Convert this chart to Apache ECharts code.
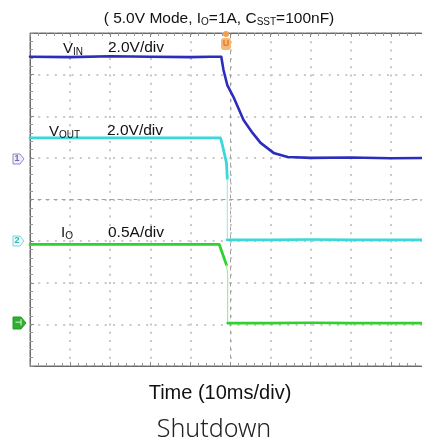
<!DOCTYPE html>
<html><head><meta charset="utf-8">
<script src="https://cdn.jsdelivr.net/npm/echarts@6/dist/echarts.min.js"></script>
<style>html,body{margin:0;padding:0;background:#fff}#c{width:422px;height:447px}</style>
</head><body><div id="c"></div>
<script>
// x: time in divisions (10 ms/div), trigger at 0; y: screen divisions, centre = 0
const vinX  = [-5, -4, -3, -2, -1, -0.5, -0.23, -0.175, -0.08, 0.075, 0.325, 0.55, 0.75, 1.075, 1.425, 2, 3, 4, 5];
const vinY  = [3.43, 3.42, 3.44, 3.43, 3.42, 3.43, 3.43, 3.11, 2.75, 2.46, 1.91, 1.60, 1.36, 1.12, 1.02, 1.0, 1.01, 0.99, 1.0];
const voutX = [-5, -2, -0.25, -0.2, -0.1, -0.08];
const voutY = [1.48, 1.48, 1.48, 1.3, 0.88, 0.5];
const voutDropX = [-0.08, -0.08];
const voutDropY = [0.5, -0.97];
const voutAfterX = [-0.08, 1, 2, 3, 4, 5];
const voutAfterY = [-0.97, -0.97, -0.96, -0.97, -0.97, -0.97];
const ioX = [-5, -2, -0.28, -0.1];
const ioY = [-1.08, -1.08, -1.08, -1.57];
const ioDropX = [-0.1, -0.07, -0.07];
const ioDropY = [-1.57, -1.8, -2.97];
const ioAfterX = [-0.07, 1, 2, 3, 4, 5];
const ioAfterY = [-2.97, -2.97, -2.96, -2.97, -2.97, -2.97];

const zip = (xs, ys) => xs.map((x, i) => [x, ys[i]]);
const chart = echarts.init(document.getElementById('c'), null, {renderer: 'canvas'});
const FONT = 'Liberation Sans, Arial, sans-serif';
const dotted = {type: [2, 6.3], color: '#c8c8c8', width: 2};

function lineSeries(data, color, width) {
  return {type: 'line', data, showSymbol: false, symbol: 'none', silent: true, animation: false,
          xAxisIndex: 0, yAxisIndex: 0,
          lineStyle: {color, width, cap: 'round', join: 'round'}, z: 5};
}
function borderAxis(position) {
  return {type: 'value', min: position === 'left' ? -4 : -5, max: position === 'left' ? 4 : 5, interval: 1, position,
     axisLine: {show: true, onZero: false, lineStyle: {color: '#6a6a6a', width: 1}},
     axisTick: {show: true, inside: true, length: 4, lineStyle: {color: '#888'}},
     minorTick: {show: true, splitNumber: 5, length: 3, lineStyle: {color: '#999'}},
     axisLabel: {show: false}, splitLine: {show: false}};
}

chart.setOption({
  animation: false,
  grid: {left: 30, top: 33, width: 401, height: 333, outerBoundsMode: 'none', containLabel: false,
         show: true, borderColor: '#6a6a6a', borderWidth: 1, backgroundColor: 'transparent'},
  xAxis: [
    {type: 'value', min: -5, max: 5, interval: 1, position: 'bottom',
     axisLine: {show: true, onZero: true, lineStyle: {color: '#a0a0a0', width: 1, type: [3, 5]}},
     axisTick: {show: false}, minorTick: {show: false},
     axisLabel: {show: false}, splitLine: {show: true, lineStyle: dotted}},
    borderAxis('bottom'),
    borderAxis('top')
  ],
  yAxis: [
    {type: 'value', min: -4, max: 4, interval: 1, position: 'left',
     axisLine: {show: true, onZero: true, lineStyle: {color: '#a0a0a0', width: 1, type: [3, 5]}},
     axisTick: {show: false}, minorTick: {show: false},
     axisLabel: {show: false}, splitLine: {show: true, lineStyle: dotted}},
    borderAxis('left')
  ],
  series: [
    lineSeries(zip(vinX, vinY), '#2c2cbd', 2.6),
    lineSeries(zip(voutX, voutY), '#3ad8d8', 2.8),
    lineSeries(zip(voutDropX, voutDropY), '#8ee8e8', 1),
    lineSeries(zip(voutAfterX, voutAfterY), '#3ad8d8', 2.6),
    lineSeries(zip(ioX, ioY), '#2fd02f', 2.8),
    lineSeries(zip(ioDropX, ioDropY), '#8fe88f', 1),
    lineSeries(zip(ioAfterX, ioAfterY), '#2fd02f', 2.6)
  ],
  graphic: [
    {type: 'text', x: 219, y: 19, z: 10, style: {
      text: '( 5.0V Mode, I{s|O}=1A, C{s|SST}=100nF)', align: 'center', verticalAlign: 'middle',
      font: '15.5px ' + FONT, fill: '#111',
      rich: {s: {fontSize: 10, fontFamily: FONT, padding: [7, 0, 0, 0], fill: '#111'}}}},
    {type: 'text', x: 63, y: 49, z: 10, style: {
      text: 'V{s|IN}', align: 'left', verticalAlign: 'middle', font: '15px ' + FONT, fill: '#111',
      rich: {s: {fontSize: 10, fontFamily: FONT, padding: [7, 0, 0, 0], fill: '#111'}}}},
    {type: 'text', x: 108, y: 48, z: 10, style: {text: '2.0V/div', align: 'left', verticalAlign: 'middle', font: '15.5px ' + FONT, fill: '#111'}},
    {type: 'text', x: 49, y: 132, z: 10, style: {
      text: 'V{s|OUT}', align: 'left', verticalAlign: 'middle', font: '15px ' + FONT, fill: '#111',
      rich: {s: {fontSize: 10, fontFamily: FONT, padding: [7, 0, 0, 0], fill: '#111'}}}},
    {type: 'text', x: 107, y: 131, z: 10, style: {text: '2.0V/div', align: 'left', verticalAlign: 'middle', font: '15.5px ' + FONT, fill: '#111'}},
    {type: 'text', x: 61, y: 233, z: 10, style: {
      text: 'I{s|O}', align: 'left', verticalAlign: 'middle', font: '15px ' + FONT, fill: '#111',
      rich: {s: {fontSize: 10, fontFamily: FONT, padding: [7, 0, 0, 0], fill: '#111'}}}},
    {type: 'text', x: 108, y: 233, z: 10, style: {text: '0.5A/div', align: 'left', verticalAlign: 'middle', font: '15.5px ' + FONT, fill: '#111'}},
    {type: 'text', x: 220, y: 393, z: 10, style: {text: 'Time (10ms/div)', align: 'center', verticalAlign: 'middle', font: '20px ' + FONT, fill: '#111'}},
    {type: 'text', x: 214, y: 430, z: 10, style: {text: 'Shutdown', align: 'center', verticalAlign: 'middle', font: '300 25px "Noto Sans", sans-serif', fill: '#222'}},
    // channel markers
    {type: 'polygon', z: 10, shape: {points: [[13, 154], [20, 154], [24, 159], [20, 164], [13, 164]]},
     style: {fill: '#eeeefa', stroke: '#8c8cc8', lineWidth: 1}},
    {type: 'text', x: 17, y: 159, z: 11, style: {text: '1', align: 'center', verticalAlign: 'middle', font: 'bold 9px ' + FONT, fill: '#6a6ab0'}},
    {type: 'polygon', z: 10, shape: {points: [[13, 236], [20, 236], [24, 241], [20, 246], [13, 246]]},
     style: {fill: '#e8fafa', stroke: '#7fd8d8', lineWidth: 1}},
    {type: 'text', x: 17, y: 241, z: 11, style: {text: '2', align: 'center', verticalAlign: 'middle', font: 'bold 9px ' + FONT, fill: '#3ab0b0'}},
    {type: 'polygon', z: 10, shape: {points: [[13, 317], [21, 317], [26, 323], [21, 329], [13, 329]]},
     style: {fill: '#2fae2f', stroke: '#2a9a2a', lineWidth: 1}},
    {type: 'text', x: 18, y: 323, z: 11, style: {text: '⊣', align: 'center', verticalAlign: 'middle', font: 'bold 8px ' + FONT, fill: '#e8ffe8'}},
    // trigger marker
    {type: 'circle', z: 10, shape: {cx: 226, cy: 34, r: 3}, style: {fill: '#f0a050'}},
    {type: 'rect', z: 10, shape: {x: 221, y: 38, width: 10, height: 12, r: 3}, style: {fill: '#f6b878'}},
    {type: 'text', x: 226, y: 44, z: 11, style: {text: 'U', align: 'center', verticalAlign: 'middle', font: 'bold 9px ' + FONT, fill: '#e07a20'}}
  ]
});
</script></body></html>
